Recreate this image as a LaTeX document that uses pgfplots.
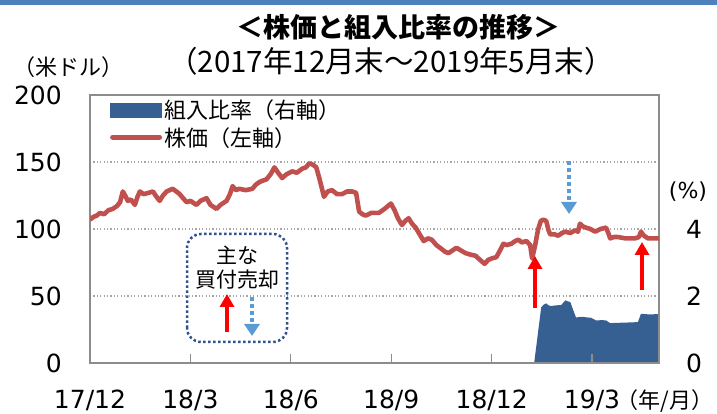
\documentclass[border=0pt]{standalone}
\usepackage{pgfplots}
\pgfplotsset{compat=1.18}
\usepackage{fontspec}
\setmainfont{DejaVu Sans}
\newfontfamily\jp{Noto Sans CJK JP}
\usetikzlibrary{arrows.meta}
\definecolor{pricered}{HTML}{C0504D}
\definecolor{areablue}{HTML}{376092}
\definecolor{topblue}{HTML}{4F81BD}
\definecolor{arrowblue}{HTML}{5B9BD5}
\definecolor{boxblue}{HTML}{2F528F}
\definecolor{framegray}{HTML}{8C8C8C}
\begin{document}
\begin{tikzpicture}
\path[use as bounding box] (0pt,0pt) rectangle (717pt,414pt);
\fill[topblue] (0pt,409pt) rectangle (717pt,414pt);
% right axis: ratio area
\begin{axis}[at={(90pt,51pt)}, anchor=south west, scale only axis,
  width=569pt, height=268pt,
  xmin=0, xmax=17, ymin=0, ymax=8,
  axis x line=none, axis y line*=right,
  axis line style={draw=none},
  ytick={0,2,4}, major tick length=0pt,
  yticklabel style={inner sep=0pt, font=\fontsize{25}{25}\selectfont},
  yticklabel shift=27pt,
  /pgf/number format/assume math mode=true]
\addplot[fill=areablue, draw=none] coordinates {
(13.27,0) (13.48,1.66) (13.55,1.74) (13.63,1.78) (13.70,1.72) (13.78,1.70)
(13.90,1.72) (14.08,1.73) (14.14,1.80) (14.20,1.87) (14.28,1.84) (14.35,1.82)
(14.43,1.60) (14.52,1.36) (14.70,1.38) (14.85,1.36) (14.97,1.35) (15.12,1.27)
(15.30,1.28) (15.42,1.27) (15.54,1.19) (15.80,1.20) (16.10,1.21) (16.37,1.22)
(16.46,1.47) (16.70,1.45) (17.00,1.46) (17.00,0)} \closedcycle;
\end{axis}
% left axis: price
\begin{axis}[at={(90pt,51pt)}, anchor=south west, scale only axis,
  width=569pt, height=268pt,
  xmin=0, xmax=17, ymin=0, ymax=200,
  axis line style={draw=framegray, line width=1.5pt},
  xtick={0,3,6,9,12,15},
  xticklabels={17/12,18/3,18/6,18/9,18/12,19/3},
  xtick pos=bottom, tick align=inside,
  xtick style={draw=framegray, line width=1.2pt},
  x tick label style={inner sep=0pt, anchor=north, font=\fontsize{25}{25}\selectfont},
  xticklabel shift=27pt,
  major tick length=9pt,
  ytick={0,50,100,150,200},
  ytick style={draw=none},
  y tick label style={inner sep=0pt, font=\fontsize{25}{25}\selectfont},
  yticklabel shift=28pt,
  ymajorgrids, grid style={draw=gray!70, line width=1.2pt, dash pattern=on 1.2pt off 2.2pt},
  /pgf/number format/assume math mode=true,
  legend style={at={(axis description cs:0.035,0.99)}, anchor=north west,
    draw=none, fill=none, font=\jp\fontsize{22}{22}\selectfont,
    row sep=3pt, inner sep=0pt, cells={anchor=west}},
  legend cell align=left]
\addlegendimage{legend image code/.code={\fill[areablue] (0pt,-7pt) rectangle (51pt,7pt);}}
\addlegendentry{組入比率（右軸）}
\addplot[pricered, line width=4.6pt, line join=round,
  legend image code/.code={\draw[pricered, line width=5pt, line cap=round] (2pt,0pt) -- (49pt,0pt);}]
coordinates {
(0.00,107) (0.10,109) (0.20,110) (0.30,112) (0.42,111) (0.55,114) (0.68,115)
(0.80,117) (0.90,120) (0.98,128) (1.05,125) (1.13,121) (1.22,122) (1.34,118)
(1.42,124) (1.49,128) (1.60,126) (1.75,127) (1.88,128) (1.96,125) (2.08,121)
(2.18,125) (2.29,128) (2.38,129) (2.47,130) (2.58,128) (2.68,126) (2.78,123)
(2.89,120) (3.00,121) (3.18,118) (3.30,121) (3.48,123) (3.60,118) (3.78,115)
(3.90,118) (4.08,121) (4.18,126) (4.26,132) (4.36,129) (4.46,130) (4.65,129)
(4.85,130) (4.95,133) (5.06,135) (5.15,136) (5.27,137) (5.40,141) (5.51,146)
(5.62,142) (5.74,138) (5.88,141) (6.04,143) (6.18,142) (6.34,145) (6.45,146)
(6.55,149) (6.66,148) (6.76,146) (6.85,138) (6.99,124) (7.10,128) (7.23,129)
(7.38,126) (7.53,126) (7.68,128) (7.83,128) (7.95,127) (8.04,113) (8.14,111)
(8.24,110) (8.40,112) (8.63,112) (8.80,115) (8.99,119) (9.10,114) (9.20,108)
(9.32,103) (9.42,106) (9.52,108) (9.62,104) (9.73,101) (9.85,96) (9.97,91)
(10.10,93) (10.21,92) (10.35,88) (10.51,85) (10.61,83) (10.71,82) (10.83,84)
(10.95,86) (11.08,84) (11.22,82) (11.35,81) (11.52,80) (11.65,77) (11.79,74)
(11.90,77) (12.00,78) (12.14,79) (12.25,84) (12.35,89) (12.45,88) (12.59,89)
(12.70,91) (12.80,92) (12.90,90) (13.04,91) (13.15,88) (13.21,78) (13.30,88)
(13.39,100) (13.47,106) (13.54,107) (13.63,106) (13.70,99) (13.75,96) (13.88,96)
(13.99,95) (14.10,97) (14.20,98) (14.35,97) (14.49,99) (14.58,98) (14.64,104)
(14.72,102) (14.82,101) (14.95,100) (15.09,98) (15.25,100) (15.42,101) (15.50,96)
(15.54,93) (15.65,94) (15.77,94) (16.00,93) (16.28,93) (16.40,94) (16.46,98)
(16.55,95) (16.67,93) (16.85,93) (17.00,93)};
\addlegendentry{株価（左軸）}
\end{axis}
% titles and unit labels
\node[font=\jp\bfseries\fontsize{27}{27}\selectfont] at (398pt,387pt) {＜株価と組入比率の推移＞};
\node[font=\jp\fontsize{29.5}{29.5}\selectfont] at (391pt,353pt) {（2017年12月末～2019年5月末）};
\node[font=\jp\fontsize{22}{22}\selectfont] at (68pt,347pt) {（米ドル）};
\node[font=\fontsize{22}{22}\selectfont] at (688pt,222pt) {(\%)};
\node[font=\jp\fontsize{22}{22}\selectfont] at (665pt,13pt) {（年/月）};
% annotation box
\draw[boxblue, line width=2.5pt, dash pattern=on 2.5pt off 2.5pt, rounded corners=14pt]
  (187pt,72pt) rectangle (287pt,180pt);
\node[font=\jp\fontsize{21}{21}\selectfont] at (237pt,159pt) {主な};
\node[font=\jp\fontsize{21}{21}\selectfont] at (237pt,134pt) {買付売却};
\draw[red, line width=4pt, -{Triangle[width=14pt,length=13pt]}] (227pt,82pt) -- (227pt,120pt);
\draw[arrowblue, line width=4pt, dash pattern=on 4pt off 3pt, -{Triangle[width=15pt,length=12pt]}] (252pt,117pt) -- (252pt,78pt);
% arrows in plot
\draw[red, line width=4pt, -{Triangle[width=14pt,length=13pt]}] (535pt,106pt) -- (535pt,158pt);
\draw[red, line width=4pt, -{Triangle[width=14pt,length=13pt]}] (642pt,124pt) -- (642pt,172pt);
\draw[arrowblue, line width=4pt, dash pattern=on 4pt off 3pt, -{Triangle[width=15pt,length=12pt]}] (569pt,253pt) -- (569pt,200pt);
\end{tikzpicture}
\end{document}
